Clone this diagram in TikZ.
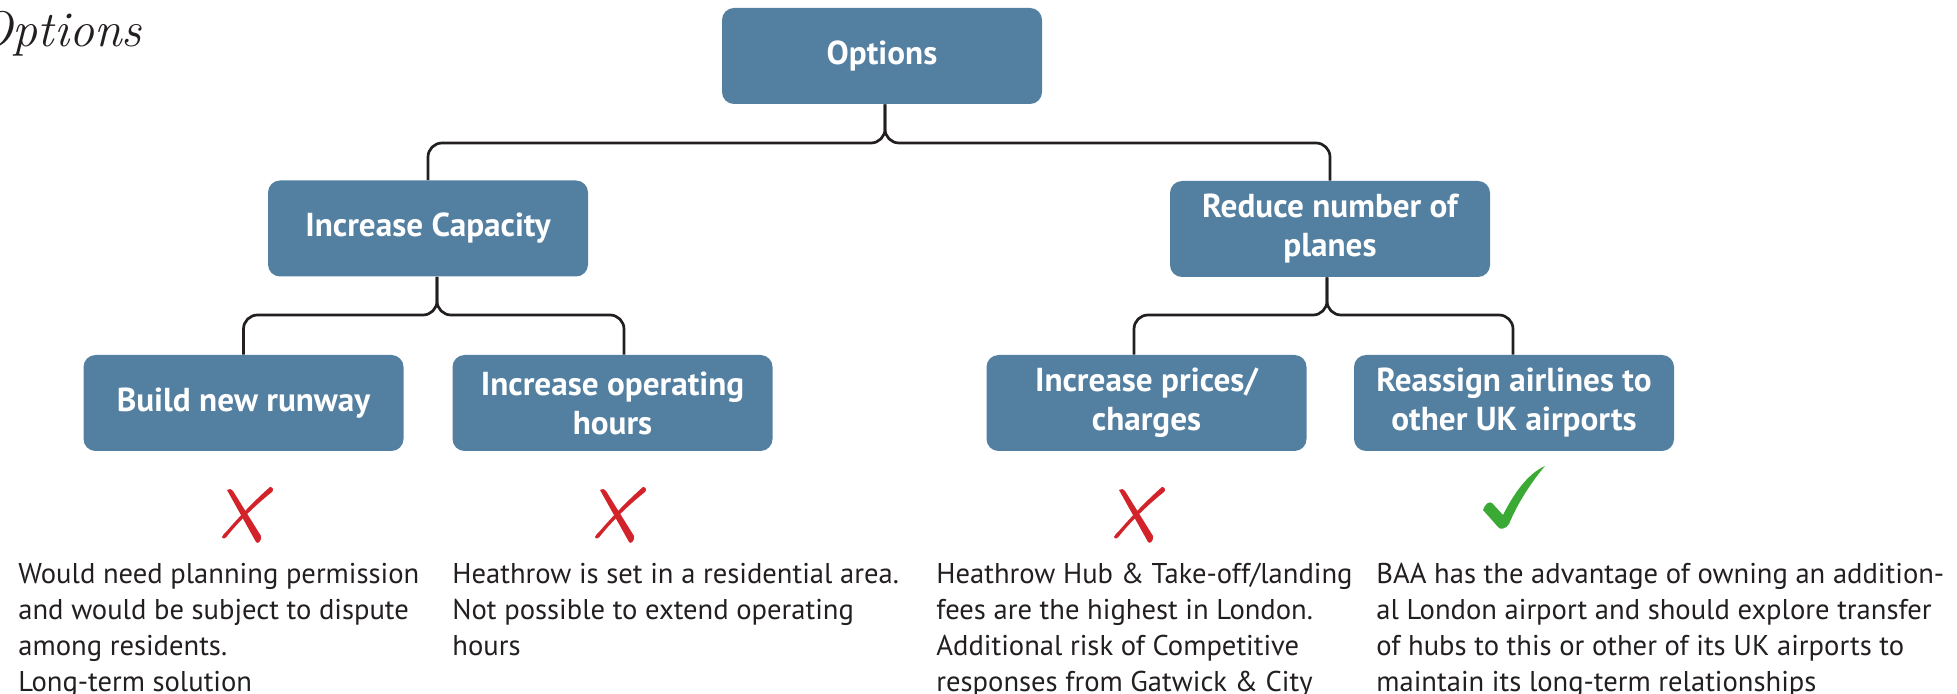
\documentclass[tikz,border=0pt]{standalone}
\usepackage{fontspec}
\newfontfamily\bodyfont{PT Sans}
\definecolor{boxblue}{HTML}{537FA1}
\definecolor{ink}{HTML}{231F20}
\definecolor{xred}{HTML}{D2232A}
\definecolor{okgreen}{HTML}{3AAA35}
\begin{document}
\begin{tikzpicture}[x=0.5pt,y=-0.5pt,
  optbox/.style={fill=boxblue, rounded corners=6pt, minimum width=160pt, minimum height=48pt, inner sep=0pt, text=white, font=\bodyfont\bfseries\fontsize{16.6}{19.5}\selectfont, align=center},
  conn/.style={draw=ink, line width=1.35pt, rounded corners=7pt},
  note/.style={anchor=base west, inner sep=0pt, text=ink, font=\bodyfont\fontsize{14.3}{18}\selectfont, align=left},
  xmark/.pic={
    \fill[xred] (-20,-25) .. controls (-18,-27) and (-15,-26) .. (-14,-24) -- (14,21) .. controls (15,25) and (11,30) .. (9,27) -- cycle;
    \fill[xred] (23,-28) .. controls (26,-28) and (27,-25) .. (25,-23) .. controls (11,-12) and (-7,5) .. (-19,20) .. controls (-21,23) and (-24,25) .. (-25,22) .. controls (-24,19) and (-22,18) .. (-21,17) .. controls (-9,3) and (8,-15) .. (23,-28) -- cycle;
  },
  okpic/.pic={
    \fill[okgreen] (-31,13) .. controls (-29,7) and (-25,4) .. (-22,6) -- (-11,18) .. controls (-1,-2) and (13,-23) .. (31,-31) .. controls (19,-17) and (4,5) .. (-5,27) .. controls (-8,32) and (-14,33) .. (-16,30) -- cycle;
  }]
\useasboundingbox (0,0) rectangle (1957,694);
\node[anchor=base east, font=\itshape\fontsize{25}{25}\selectfont, text=ink, inner sep=0pt] (title) at (142,47) {Options};
\node[optbox] (opt) at (882,56) {Options};
\node[optbox] (cap) at (428,228.5) {Increase Capacity};
\node[optbox] (red) at (1330,229) {Reduce number of\\planes};
\node[optbox] (run) at (243.5,403) {Build new runway};
\node[optbox] (hrs) at (612.5,403) {Increase operating\\hours};
\node[optbox] (fee) at (1146.5,403) {Increase prices/\\charges};
\node[optbox] (re) at (1514,403) {Reassign airlines to\\other UK airports};
\coordinate (h1) at (0,143);
\coordinate (h2) at (0,315);
\coordinate (j1) at ([xshift=1.5pt]opt.south);
\coordinate (j2) at ([xshift=4.5pt]cap.south);
\coordinate (j3) at ([xshift=-1.5pt]red.south);
\coordinate (e1) at ([xshift=5.75pt]hrs.north);
\coordinate (e2) at ([xshift=-6.25pt]fee.north);
\coordinate (e3) at ([xshift=-0.5pt]re.north);
\draw[conn] (j1) -- (j1 |- h1) -- (cap.north |- h1) -- (cap.north);
\draw[conn] (j1) -- (j1 |- h1) -- (red.north |- h1) -- (red.north);
\draw[conn] (j2) -- (j2 |- h2) -- (run.north |- h2) -- (run.north);
\draw[conn] (j2) -- (j2 |- h2) -- (e1 |- h2) -- (e1);
\draw[conn] (j3) -- (j3 |- h2) -- (e2 |- h2) -- (e2);
\draw[conn] (j3) -- (j3 |- h2) -- (e3 |- h2) -- (e3);
\pic at (247,515) {xmark};
\pic at (620,515) {xmark};
\pic at (1139,515) {xmark};
\pic at (1514,497) {okpic};
\node[note] (t1) at (18,691) {Would need planning permission\\and would be subject to dispute\\among residents.\\Long-term solution};
\node[note] (t2) at (452,655) {Heathrow is set in a residential area.\\Not possible to extend operating\\hours};
\node[note] (t3) at (936,691) {Heathrow Hub \& Take-off/landing\\fees are the highest in London.\\Additional risk of Competitive\\responses from Gatwick \& City};
\node[note] (t4) at (1376,691) {BAA has the advantage of owning an addition-\\al London airport and should explore transfer\\of hubs to this or other of its UK airports to\\maintain its long-term relationships};
\end{tikzpicture}
\end{document}
